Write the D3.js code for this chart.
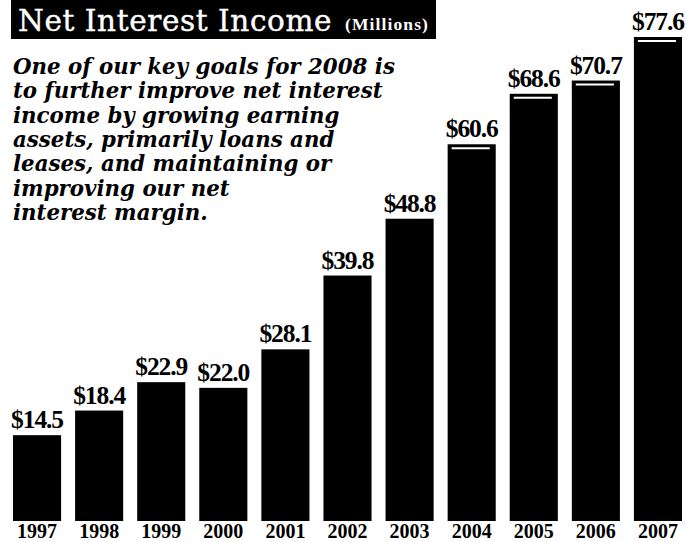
<!DOCTYPE html>
<html>
<head>
<meta charset="utf-8">
<script src="https://cdn.jsdelivr.net/npm/d3@7"></script>
<style>
  html, body { margin: 0; padding: 0; background: #fff; }
  svg { display: block; }
</style>
</head>
<body>
<svg id="chart" width="687" height="542"></svg>
<script>
// Net interest income, in millions of dollars
const years = ["1997","1998","1999","2000","2001","2002","2003","2004","2005","2006","2007"];
const income = [14.5, 18.4, 22.9, 22.0, 28.1, 39.8, 48.8, 60.6, 68.6, 70.7, 77.6];
const valueLabels = ["$14.5","$18.4","$22.9","$22.0","$28.1","$39.8","$48.8","$60.6","$68.6","$70.7","$77.6"];
// Years whose bars carry a white highlight stroke near the top
const highlighted = ["2004","2005","2006","2007"];

const titleMain = "Net Interest Income";
const titleUnit = "(Millions)";
const blurbLines = [
  "One of our key goals for 2008 is",
  "to further improve net interest",
  "income by growing earning",
  "assets, primarily loans and",
  "leases, and maintaining or",
  "improving our net",
  "interest margin."
];

const svg = d3.select("#chart");
const serif = "'Liberation Serif', 'DejaVu Serif', serif";
const ink = "#000";

// Adjust a text's letter spacing so that it spans the given width
function spreadWidth(sel, width) {
  const n = sel.text().length;
  const w = sel.node().getComputedTextLength();
  sel.attr("letter-spacing", (width - w) / n);
}

const baseline = 521;
const x = d3.scaleBand().domain(years).range([6, 689]).paddingInner(0.2254).paddingOuter(0.1127);
const y = d3.scaleLinear().domain([0.9, 77.6]).range([baseline, 37]);

const rows = years.map((yr, i) => ({ year: yr, value: income[i], label: valueLabels[i] }));

// Bars
svg.append("g").selectAll("rect").data(rows).join("rect")
  .attr("x", d => x(d.year))
  .attr("y", d => y(d.value))
  .attr("width", x.bandwidth())
  .attr("height", d => baseline - y(d.value))
  .attr("fill", ink);

// Highlight strokes
svg.append("g").selectAll("line").data(rows.filter(d => highlighted.includes(d.year))).join("line")
  .attr("x1", d => x(d.year) + 4)
  .attr("x2", d => x(d.year) + x.bandwidth() - 6)
  .attr("y1", d => y(d.value) + 4)
  .attr("y2", d => y(d.value) + 4)
  .attr("stroke", "#fff")
  .attr("stroke-width", 2);

// Value labels above bars
svg.append("g").selectAll("text").data(rows).join("text")
  .attr("x", d => x(d.year) + x.bandwidth() / 2)
  .attr("y", d => y(d.value) - 7)
  .attr("text-anchor", "middle")
  .attr("font-family", serif)
  .attr("font-weight", "bold")
  .attr("font-size", 25.5)
  .attr("letter-spacing", -1.1)
  .attr("fill", ink)
  .text(d => d.label);

// Year axis
const xAxis = svg.append("g")
  .attr("transform", `translate(0,${baseline})`)
  .call(d3.axisBottom(x).tickSize(0).tickPadding(0));
xAxis.select(".domain").remove();
xAxis.selectAll("text")
  .attr("dy", null)
  .attr("y", 17)
  .attr("font-family", serif)
  .attr("font-weight", "bold")
  .attr("font-size", 20)
  .attr("fill", ink);

// Title block
svg.append("rect")
  .attr("x", 11).attr("y", 0).attr("width", 425).attr("height", 39)
  .attr("fill", ink);
const tMain = svg.append("text")
  .attr("x", 18).attr("y", 31)
  .attr("font-family", "'DejaVu Serif', serif")
  .attr("font-size", 29.5)
  .attr("fill", "#fff")
  .attr("stroke", "#fff")
  .attr("stroke-width", 0.4)
  .text(titleMain);
spreadWidth(tMain, 314);
const tUnit = svg.append("text")
  .attr("x", 345).attr("y", 30)
  .attr("font-family", serif)
  .attr("font-weight", "bold")
  .attr("font-size", 17.5)
  .attr("fill", "#fff")
  .text(titleUnit);
spreadWidth(tUnit, 84);

// Italic blurb
const blurb = svg.append("g")
  .attr("font-family", "'DejaVu Serif', serif")
  .attr("font-style", "italic")
  .attr("font-weight", "bold")
  .attr("font-size", 20)
  .attr("fill", ink);
const lines = blurb.selectAll("text").data(blurbLines).join("text")
  .attr("x", 13)
  .attr("y", (d, i) => 74 + i * 24.35)
  .text(d => d);
const firstW = lines.node().getComputedTextLength();
blurb.attr("font-size", 20 * 382 / firstW);
</script>
</body>
</html>
